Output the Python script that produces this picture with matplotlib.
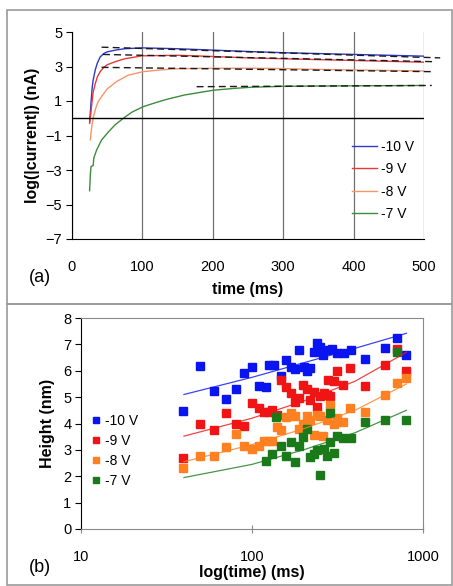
import numpy as np
import matplotlib
matplotlib.use('Agg')
import matplotlib.pyplot as plt
from matplotlib.lines import Line2D

plt.rcParams['font.family'] = ['Liberation Sans', 'DejaVu Sans']

# ---- panel (a): current transients ----
t_10 = [25, 26, 27, 28.7, 30, 33, 36, 40, 45, 50, 63, 75, 100, 150, 200, 250, 300, 350, 400, 450, 500]
i_10 = [-0.2, 0.3, 0.9, 1.8, 2.2, 2.8, 3.2, 3.55, 3.75, 3.85, 3.96, 4.03, 4.08, 4.03, 3.95, 3.87, 3.8, 3.75, 3.7, 3.65, 3.6]
t_9 = [25, 26, 27, 28.7, 30, 33, 36, 40, 45, 50, 63, 75, 100, 150, 200, 250, 300, 350, 400, 450, 500]
i_9 = [-0.3, 0.0, 0.4, 1.05, 1.5, 2.0, 2.4, 2.7, 2.95, 3.1, 3.3, 3.45, 3.62, 3.65, 3.58, 3.5, 3.45, 3.4, 3.35, 3.3, 3.25]
t_8 = [26, 28, 30, 33, 37, 41, 50, 63, 80, 101, 125, 150, 200, 250, 300, 350, 400, 450, 500]
i_8 = [-1.25, -0.5, 0.0, 0.5, 0.95, 1.2, 1.7, 2.12, 2.5, 2.7, 2.8, 2.87, 2.9, 2.9, 2.88, 2.83, 2.8, 2.77, 2.74]
t_7 = [25, 26, 27, 30, 31, 35, 42, 52, 61, 73, 85, 101, 120, 135, 160, 200, 230, 255, 300, 350, 400, 450, 500]
i_7 = [-4.2, -3.3, -2.8, -2.75, -2.3, -1.84, -1.26, -0.78, -0.39, 0.0, 0.35, 0.67, 0.92, 1.1, 1.35, 1.62, 1.73, 1.8, 1.85, 1.87, 1.88, 1.89, 1.9]

# dashed steady-state fits
fit_t = [[42, 523], [44, 513], [42, 513], [177, 511]]
fit_i = [[4.12, 3.5], [3.7, 3.28], [2.95, 2.7], [1.83, 1.9]]

labels = ['-10 V', '-9 V', '-8 V', '-7 V']
line_colors = ['#3038c8', '#e8383c', '#f89468', '#3c8c3c']

# ---- panel (b): height vs time ----
tb_10 = [39.4, 49.4, 59.7, 70.2, 80.2, 89.7, 100, 110, 120, 125, 135, 148.5, 158.6, 169, 179, 189, 202, 211, 219, 229, 240, 251, 260, 275, 294, 314, 343, 379, 460, 602, 705, 800]
hb_10 = [4.47, 6.17, 5.22, 4.91, 5.30, 5.92, 6.15, 5.41, 5.39, 6.22, 6.22, 5.79, 6.4, 6.15, 6.06, 6.8, 6.15, 5.98, 6.12, 6.71, 7.05, 6.9, 6.61, 6.8, 6.84, 6.67, 6.67, 6.8, 6.46, 6.86, 7.24, 6.59]
tb_9 = [39.4, 49.4, 59.7, 70.2, 80.2, 89.7, 100, 110, 118, 125, 131, 140, 148.5, 158.6, 169, 179, 189, 200, 210, 219, 229, 240, 251, 262, 275, 280, 286, 300, 314, 340, 375, 460, 602, 705, 800]
hb_9 = [2.7, 4.0, 3.77, 4.38, 4.0, 3.9, 4.76, 4.57, 4.44, 4.44, 4.5, 4.32, 5.64, 5.39, 5.16, 4.82, 4.98, 5.45, 5.32, 4.88, 5.2, 4.63, 5.03, 5.14, 5.07, 5.65, 5.03, 5.6, 5.99, 5.45, 6.1, 5.43, 6.23, 6.84, 6.0]
tb_8 = [39.4, 49.4, 59.7, 70.2, 80.2, 89.7, 100, 110, 118, 125, 131, 140, 148.5, 158.6, 169, 179, 189, 200, 210, 219, 229, 240, 251, 260, 273, 286, 300, 314, 340, 375, 460, 602, 705, 800]
hb_8 = [2.30, 2.78, 2.78, 3.12, 3.62, 3.15, 3.03, 3.15, 3.34, 3.34, 3.34, 3.87, 3.75, 4.25, 4.4, 4.28, 3.81, 3.97, 4.28, 4.13, 3.56, 4.32, 4.28, 3.52, 4.13, 4.69, 4.0, 4.19, 4.04, 4.57, 4.44, 5.07, 5.54, 5.74]
tb_7 = [120, 131, 138, 148.5, 158.6, 169, 179, 189, 200, 210, 219, 229, 240, 251, 262, 273, 284, 286, 300, 316, 340, 379, 460, 602, 705, 800]
hb_7 = [2.59, 2.86, 4.25, 3.14, 2.78, 3.31, 2.55, 3.14, 3.49, 3.81, 2.74, 2.86, 2.99, 2.04, 3.05, 2.78, 3.31, 4.38, 2.9, 3.53, 3.46, 3.46, 4.04, 4.12, 6.71, 4.12]

# trend lines
trend_t = [40, 100, 200, 400, 800]
trend_h = [[5.1, 5.75, 6.3, 6.85, 7.42],
           [3.52, 4.2, 4.85, 5.6, 6.7],
           [2.55, 3.2, 3.8, 4.5, 5.5],
           [1.95, 2.45, 3.0, 3.65, 4.5]]
marker_colors = ['#0a14f0', '#f01414', '#ff8020', '#1a7a1a']

W, H = 453, 586
fig = plt.figure(figsize=(W / 100, H / 100), dpi=100)


def frac(x0, y0, x1, y1):
    # pixel box (top-left origin) -> figure fractions
    return [x0 / W, 1 - y1 / H, (x1 - x0) / W, (y1 - y0) / H]


# panel frames
for x0, y0, x1, y1 in [(7, 10, 452, 304), (7, 304, 452, 585)]:
    fig.patches.append(plt.Rectangle((x0 / W, 1 - y1 / H), (x1 - x0) / W, (y1 - y0) / H,
                                     transform=fig.transFigure, fill=False,
                                     edgecolor='#9a9a9a', lw=1.2))

# ---------------- (a) ----------------
ax1 = fig.add_axes(frac(72, 32, 424, 239))
for t, v, c, lab in zip([t_10, t_9, t_8, t_7], [i_10, i_9, i_8, i_7], line_colors, labels):
    ax1.plot(t, v, color=c, lw=1.0, label=lab)
for ft, fi in zip(fit_t, fit_i):
    ax1.plot(ft, fi, color='#1a1a1a', lw=1.0, dashes=(5, 3), clip_on=False)
ax1.axhline(0, color='black', lw=1.0)
ax1.set_xlim(0, 500)
ax1.set_ylim(-7, 5)
ax1.set_xticks([0, 100, 200, 300, 400, 500])
ax1.set_yticks([5, 3, 1, -1, -3, -5, -7])
ax1.grid(axis='x', color='#707070', lw=0.9)
ax1.spines['top'].set_visible(False)
ax1.spines['right'].set_visible(False)
ax1.tick_params(axis='y', direction='out', length=4, labelsize=10.5, pad=3)
ax1.tick_params(axis='x', direction='out', length=0, labelsize=10.5, pad=15)
ax1.set_xlabel('time (ms)', fontsize=11.5, fontweight='bold', labelpad=6)
ax1.set_ylabel('log(|current|) (nA)', fontsize=11.5, fontweight='bold', labelpad=4)
ax1.legend(loc='lower right', bbox_to_anchor=(1.0, 0.04), frameon=False, fontsize=10,
           handlelength=1.8, handletextpad=0.3, labelspacing=0.6, borderaxespad=0.3)
fig.text(40 / W, 1 - 277 / H, '(a)', fontsize=13, ha='center', va='center')

# ---------------- (b) ----------------
ax2 = fig.add_axes(frac(81, 318, 423, 529))
for tt, hh, c, lab in zip([tb_10, tb_9, tb_8, tb_7], [hb_10, hb_9, hb_8, hb_7], marker_colors, labels):
    ax2.plot(tt, hh, 's', color=c, ms=5.5, mec=c, label=lab, clip_on=False)
for th, c in zip(trend_h, marker_colors):
    ax2.plot(trend_t, th, '-', color=c, lw=0.9, alpha=0.8)
ax2.set_xscale('log')
ax2.set_xlim(10, 1000)
ax2.set_ylim(0, 8)
ax2.set_yticks(range(0, 9))
ax2.set_xticks([10, 100, 1000])
ax2.set_xticklabels(['10', '100', '1000'])
ax2.minorticks_off()
for s in ['top', 'right', 'bottom']:
    ax2.spines[s].set_color('#8a8a8a')
ax2.tick_params(axis='y', direction='out', length=4, labelsize=10.5, pad=3)
ax2.tick_params(axis='x', direction='inout', length=6, labelsize=10.5, pad=12, color='#8a8a8a')
ax2.set_xlabel('log(time) (ms)', fontsize=11.5, fontweight='bold', labelpad=1)
ax2.set_ylabel('Height (nm)', fontsize=11.5, fontweight='bold', labelpad=6)
ax2.legend(loc='center left', bbox_to_anchor=(-0.01, 0.37), frameon=False, fontsize=10,
           handlelength=0.8, handletextpad=0.3, labelspacing=0.45, markerscale=0.85)
fig.text(40 / W, 1 - 567 / H, '(b)', fontsize=13, ha='center', va='center')

fig.savefig('out.png', dpi=100)
